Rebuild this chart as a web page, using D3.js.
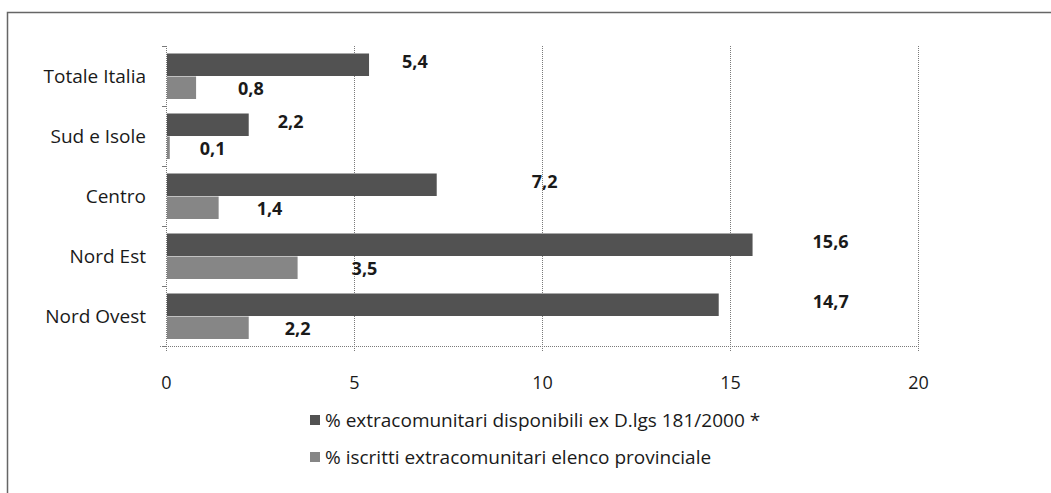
<!DOCTYPE html>
<html>
<head>
<meta charset="utf-8">
<script src="https://cdn.jsdelivr.net/npm/d3@7"></script>
<style>
  body { margin: 0; background: #fff; }
  svg text { font-family: "Open Sans", "Noto Sans", sans-serif; fill: #1a1a1a; }
</style>
</head>
<body>
<div id="chart"></div>
<script>
// data (top to bottom as drawn)
var categories = ['Totale Italia', 'Sud e Isole', 'Centro', 'Nord Est', 'Nord Ovest'];
var disponibili = [5.4, 2.2, 7.2, 15.6, 14.7];
var iscritti = [0.8, 0.1, 1.4, 3.5, 2.2];
var seriesNames = ['% extracomunitari disponibili ex D.lgs 181/2000 *', '% iscritti extracomunitari elenco provinciale'];
var xTicks = [0, 5, 10, 15, 20];

// colours
var $dark = '#525252';
var $light = '#868686';
var $grid = '#7a7a7a';

// the value labels were dragged by hand in the original, px past the bar end
var darkLabelDx = [33, 29, 95, 60, 94];
var lightLabelDx = [42, 30, 38, 54, 36];

var W = 1051, H = 493;
var plot = {left: 166, right: 918, top: 46, bottom: 346};

var svg = d3.select('#chart').append('svg')
    .attr('width', W)
    .attr('height', H);

// outer frame (only top and left edge are visible)
svg.append('path')
    .attr('d', 'M7.5,493 L7.5,12.5 L1051,12.5')
    .attr('fill', 'none')
    .attr('stroke', '#666')
    .attr('stroke-width', 1.5);

var x = d3.scaleLinear().domain([0, 20]).range([plot.left, plot.right]);
var y = d3.scaleBand().domain(categories).range([plot.top, plot.bottom])
    .paddingInner(0.25).paddingOuter(0.125);
var sub = d3.scaleBand().domain(['disp', 'iscr']).range([0, y.bandwidth()]);

//vertical gridlines
svg.append('g').selectAll('line')
    .data(xTicks.slice(1))
    .enter().append('line')
    .attr('x1', function(d) { return x(d) + 0.5; })
    .attr('x2', function(d) { return x(d) + 0.5; })
    .attr('y1', plot.top)
    .attr('y2', plot.bottom + 5)
    .attr('stroke', $grid)
    .attr('stroke-dasharray', '1,1');

//bottom axis line and tick labels
var xAxis = d3.axisBottom(x).tickValues(xTicks).tickSize(0).tickPadding(30)
    .tickFormat(d3.format('d'));
var gx = svg.append('g').attr('transform', 'translate(0,' + (plot.bottom + 0.5) + ')').call(xAxis);
gx.select('.domain').attr('stroke', $grid).attr('stroke-dasharray', '1,1')
    .attr('d', 'M' + (plot.left - 6) + ',0H' + plot.right);
gx.selectAll('text').attr('font-size', 18).attr('fill', '#1a1a1a')
    .style('font-family', '"Open Sans", sans-serif');

//left axis with category labels
var bandEdges = categories.map(function(c) { return y(c) - y.step() * 0.125; }).concat([plot.bottom]);
var gy = svg.append('g');
gy.append('line')
    .attr('x1', plot.left + 0.5).attr('x2', plot.left + 0.5)
    .attr('y1', plot.top).attr('y2', plot.bottom + 6)
    .attr('stroke', $grid).attr('stroke-dasharray', '1,1');
gy.selectAll('line.tick')
    .data(bandEdges)
    .enter().append('line')
    .attr('class', 'tick')
    .attr('x1', plot.left - 4).attr('x2', plot.left)
    .attr('y1', function(d) { return d + 0.5; })
    .attr('y2', function(d) { return d + 0.5; })
    .attr('stroke', $grid);
gy.selectAll('text')
    .data(categories)
    .enter().append('text')
    .attr('x', 146)
    .attr('y', function(d) { return y(d) + y.bandwidth() / 2; })
    .attr('dy', '0.35em')
    .attr('text-anchor', 'end')
    .attr('font-size', 19)
    .text(function(d) { return d; });

//bars
var rows = categories.map(function(c, i) {
    return {cat: c, disp: disponibili[i], iscr: iscritti[i], i: i};
});

var bars = svg.append('g');
bars.selectAll('rect.disp')
    .data(rows)
    .enter().append('rect')
    .attr('class', 'disp')
    .attr('x', plot.left + 1)
    .attr('y', function(d) { return y(d.cat) + sub('disp'); })
    .attr('width', function(d) { return x(d.disp) - plot.left - 1; })
    .attr('height', sub.bandwidth())
    .attr('fill', $dark);
bars.selectAll('rect.iscr')
    .data(rows)
    .enter().append('rect')
    .attr('class', 'iscr')
    .attr('x', plot.left + 1)
    .attr('y', function(d) { return y(d.cat) + sub('iscr') + 0.5; })
    .attr('width', function(d) { return Math.max(1, x(d.iscr) - plot.left - 1); })
    .attr('height', sub.bandwidth())
    .attr('fill', $light);

//value labels
var fmt = function(v) { return d3.format('.1f')(v).replace('.', ','); };
var labels = svg.append('g').attr('font-weight', 'bold').attr('font-size', 18);
labels.selectAll('text.disp')
    .data(rows)
    .enter().append('text')
    .attr('x', function(d) { return x(d.disp) + darkLabelDx[d.i]; })
    .attr('y', function(d) { return y(d.cat) + sub('disp') + sub.bandwidth() / 2 - 3; })
    .attr('dy', '0.35em')
    .text(function(d) { return fmt(d.disp); });
labels.selectAll('text.iscr')
    .data(rows)
    .enter().append('text')
    .attr('x', function(d) { return x(d.iscr) + lightLabelDx[d.i]; })
    .attr('y', function(d) { return y(d.cat) + sub('iscr') + sub.bandwidth() / 2 + 1; })
    .attr('dy', '0.35em')
    .text(function(d) { return fmt(d.iscr); });

//legend
var legend = svg.append('g').attr('transform', 'translate(310,0)');
var legY = [420, 457];
var legItems = legend.selectAll('g')
    .data(seriesNames)
    .enter().append('g')
    .attr('transform', function(d, i) { return 'translate(0,' + legY[i] + ')'; });
legItems.append('rect')
    .attr('x', 0).attr('y', -5)
    .attr('width', 10).attr('height', 10)
    .attr('fill', function(d, i) { return i === 0 ? $dark : $light; });
legItems.append('text')
    .attr('x', 15)
    .attr('dy', '0.35em')
    .attr('font-size', 19)
    .text(function(d) { return d; });
</script>
</body>
</html>
